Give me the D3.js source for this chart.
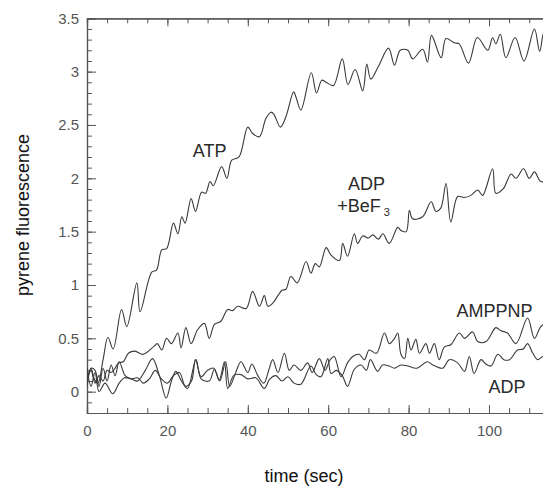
<!DOCTYPE html>
<html>
<head>
<meta charset="utf-8">
<script src="https://cdn.jsdelivr.net/npm/d3@7"></script>
<style>
  body { margin: 0; background: #fff; }
  svg { display: block; font-family: "Liberation Sans", Arial, sans-serif; }
</style>
</head>
<body>
<svg width="543" height="486"></svg>
<script>
// data: [time (sec), pyrene fluorescence]
const atp = [[0,0.05],[1,0.22],[1.8,0.12],[2.7,0.08],[4,0.3],[5.2,0.51],[6.5,0.40],[8.6,0.77],[9.9,0.61],
  [12.4,1.02],[13.2,0.75],[16.1,1.12],[17.3,1.14],[18.6,1.33],[19.8,1.34],[21.5,1.58],[22.6,1.48],[23.6,1.64],
  [24.4,1.58],[25.9,1.81],[27,1.69],[28.5,1.87],[29.5,1.86],[30.6,1.97],[31.4,1.93],[33.5,2.11],[34.8,2.00],
  [36,2.17],[37.8,2.20],[40,2.48],[41.2,2.42],[42.9,2.39],[44.5,2.56],[45.8,2.62],[46.5,2.60],[48.1,2.48],
  [49.5,2.58],[51.4,2.81],[52,2.76],[53.2,2.64],[55.8,2.99],[57.1,2.80],[58.4,2.92],[59.5,2.90],[61.3,2.87],
  [63.5,3.12],[64.9,2.88],[66.7,3.02],[68.6,2.82],[69.6,3.07],[70.6,2.93],[72.5,3.05],[75,3.22],[76.5,3.06],
  [77.9,3.20],[79.8,3.20],[81,3.12],[83.5,3.21],[84.7,3.09],[85.7,3.34],[88.1,3.13],[89.3,3.31],[91.4,3.27],
  [92.6,3.26],[94.9,3.08],[97.1,3.32],[99.7,3.20],[100.9,3.32],[101.7,3.26],[102.8,3.35],[104.2,3.13],
  [106.5,3.32],[108.7,3.10],[111.3,3.40],[112.6,3.19],[113.7,3.37],[115,3.28]];

const adpBef3 = [[0,0.12],[1,0.2],[2,0.08],[3,0.15],[4,0.1],[5,0.2],[6,0.18],[7,0.22],[7.8,0.27],[9,0.28],
  [10.3,0.36],[11.9,0.38],[14,0.35],[16.5,0.42],[17.5,0.45],[18.6,0.39],[19.8,0.50],[21,0.45],[22.6,0.55],
  [23.4,0.41],[24.6,0.60],[25.9,0.45],[27.5,0.58],[29.2,0.64],[30.4,0.50],[31.7,0.63],[33.3,0.66],[35,0.77],
  [36.2,0.76],[37.5,0.80],[39.6,0.78],[41.2,0.94],[42.9,0.80],[44.1,0.90],[45,0.80],[46.2,0.83],[47.5,0.90],
  [48.5,0.95],[49.5,0.96],[50.7,1.08],[52.3,1.02],[54.5,1.22],[55.7,1.11],[56.8,1.20],[57.8,1.17],[59.5,1.35],
  [60.7,1.28],[62.8,1.23],[63.6,1.39],[64.8,1.27],[66.5,1.48],[67.3,1.39],[68.6,1.46],[70,1.44],[71.1,1.47],
  [72.5,1.43],[73.6,1.48],[75.2,1.39],[77.3,1.54],[78.1,1.51],[79.4,1.50],[80.2,1.70],[81,1.62],[83.5,1.64],
  [85.6,1.78],[86.8,1.69],[88,1.72],[89.3,1.95],[90.5,1.59],[92.2,1.83],[93.8,1.82],[95.5,1.84],[97.2,1.89],
  [98.4,1.84],[100.9,2.09],[101.7,1.86],[103.5,1.90],[105.5,2.04],[106.7,2.00],[108.6,2.09],[110,2.00],
  [111.3,2.06],[112.9,1.97],[115,1.98]];

const amppnp = [[0,0.1],[1,0.22],[2,0.2],[3,0.05],[4,0.22],[5,0.1],[6,0.25],[7,0.15],[8,0.28],[9.5,0.15],
  [11,0.12],[12.6,0.13],[14,0.08],[15.5,0.12],[17,0.2],[18.5,0.12],[20,0.08],[21.5,0.15],[23,0.18],[24.5,0.05],
  [26,0.1],[27,0.3],[28.4,0.14],[30,0.2],[31.5,0.22],[33,0.1],[34.5,0.28],[35.5,0.05],[37,0.18],[38.3,0.28],
  [40,0.18],[41,0.26],[42.5,0.15],[44,0.08],[45.2,0.2],[46.2,0.3],[47.5,0.18],[49.1,0.36],[50.3,0.2],
  [51.5,0.25],[53.2,0.2],[54.9,0.27],[56,0.18],[57.8,0.31],[59.2,0.2],[60.5,0.3],[61.5,0.33],[63.2,0.14],
  [64.8,0.27],[66.1,0.33],[67.7,0.35],[69,0.3],[70.2,0.39],[72,0.36],[74,0.55],[75.2,0.45],[76.5,0.5],
  [77.3,0.55],[78.1,0.35],[79,0.31],[79.8,0.50],[80.6,0.39],[81.8,0.49],[82.7,0.36],[84.3,0.45],[85.2,0.36],
  [86.4,0.45],[87.6,0.30],[88.9,0.42],[90.5,0.44],[92.6,0.55],[93.9,0.50],[95.9,0.56],[97.2,0.47],[99.3,0.47],
  [101.7,0.60],[103,0.57],[104.6,0.55],[106.7,0.45],[109.6,0.69],[111.3,0.50],[112.9,0.61],[115,0.66]];

const adp = [[0,0.22],[1,0.05],[2,0.18],[3,0.0],[4.5,0.08],[6.4,-0.02],[8,0.08],[9.3,0.13],[11,0.12],
  [12.6,0.10],[14.5,0.2],[16.3,0.31],[18,0.15],[19.7,-0.06],[21,0.1],[22.1,0.19],[23.5,0.1],[25,0.03],
  [27.1,0.3],[28.4,0.12],[30.4,0.1],[31.7,0.21],[32.9,0.11],[34.2,0.28],[35,0.03],[36.5,0.15],[38.3,0.16],
  [40,0.12],[42,0.13],[44.1,0.03],[45.5,0.12],[47,0.15],[48.5,0.1],[50,0.14],[51.5,0.08],[53.2,0.07],
  [55.7,0.24],[57,0.16],[58.2,0.14],[59.9,0.31],[60.7,0.17],[62,0.2],[63.5,0.15],[64.8,0.05],[66.5,0.21],
  [68.2,0.25],[69.5,0.2],[70.5,0.3],[72.3,0.19],[73.5,0.25],[75.2,0.24],[76.5,0.22],[78.1,0.25],[79.8,0.24],
  [82,0.22],[84.7,0.28],[86,0.25],[88.5,0.22],[90.1,0.30],[92.2,0.27],[93.9,0.19],[95.1,0.33],[96.3,0.17],
  [98,0.30],[99.2,0.26],[100.5,0.24],[102.2,0.35],[103.7,0.3],[105.1,0.30],[107.1,0.39],[108.5,0.4],
  [109.6,0.45],[110.9,0.36],[112.1,0.30],[113.5,0.33],[115,0.3]];

const xTickLabels = [0, 20, 40, 60, 80, 100];
const yTickLabels = [0, 0.5, 1, 1.5, 2, 2.5, 3, 3.5];

// series labels: [text, time, value]
const labels = [["ATP", 30.5, 2.2], ["ADP", 69.5, 1.89], ["AMPPNP", 101.4, 0.7], ["ADP", 104.5, -0.01]];

const svg = d3.select("svg");
const plotLeft = 87, plotTop = 18.3, plotBottom = 413, plotRight = 569.4;

const x = d3.scaleLinear().domain([0, 120]).range([plotLeft, plotRight]);
const y = d3.scaleLinear().domain([-0.2, 3.5]).range([plotBottom, plotTop]);

svg.append("defs").append("clipPath").attr("id", "plot")
  .append("rect").attr("x", plotLeft).attr("y", plotTop)
  .attr("width", plotRight - plotLeft).attr("height", plotBottom - plotTop);

// axes
const axisColor = "#555";
function styleAxis(g) {
  g.select(".domain").attr("stroke", axisColor).attr("stroke-width", 1.2);
  g.selectAll(".tick line").attr("stroke", axisColor).attr("stroke-width", 1);
  g.selectAll(".tick text").attr("fill", "#555").style("font-size", "15px");
}

// minor ticks
svg.append("g").attr("transform", `translate(${plotLeft},0)`)
  .call(d3.axisLeft(y).tickValues(d3.range(-0.1, 3.45, 0.1)).tickSize(-5).tickFormat(""))
  .call(styleAxis);
svg.append("g").attr("transform", `translate(0,${plotBottom})`)
  .call(d3.axisBottom(x).tickValues(d3.range(5, 120, 5)).tickSize(-5).tickFormat(""))
  .call(styleAxis);
svg.append("g").attr("transform", `translate(0,${plotTop})`)
  .call(d3.axisTop(x).tickValues(d3.range(5, 120, 5)).tickSize(-5).tickFormat(""))
  .call(styleAxis);

// major ticks + labels
svg.append("g").attr("transform", `translate(${plotLeft},0)`)
  .call(d3.axisLeft(y).tickValues(yTickLabels).tickSize(-9).tickPadding(8).tickFormat(d => d))
  .call(styleAxis);
svg.append("g").attr("transform", `translate(0,${plotBottom})`)
  .call(d3.axisBottom(x).tickValues(xTickLabels).tickSize(-8).tickPadding(12).tickFormat(d => d))
  .call(styleAxis);
svg.append("g").attr("transform", `translate(0,${plotTop})`)
  .call(d3.axisTop(x).tickValues(xTickLabels).tickSize(-8).tickFormat(""))
  .call(styleAxis);

// curves
const line = d3.line()
  .x(d => x(d[0]))
  .y(d => y(d[1]))
  .curve(d3.curveCatmullRom.alpha(0.5));

svg.append("g").attr("clip-path", "url(#plot)")
  .selectAll("path")
  .data([adp, amppnp, adpBef3, atp])
  .enter()
  .append("path")
  .attr("d", line)
  .attr("fill", "none")
  .attr("stroke", "#3a3a3a")
  .attr("stroke-width", 1.1);

// series labels
svg.append("g")
  .selectAll("text")
  .data(labels)
  .enter()
  .append("text")
  .attr("x", d => x(d[1]))
  .attr("y", d => y(d[2]))
  .attr("text-anchor", "middle")
  .attr("fill", "#2a2a2a")
  .style("font-size", "18px")
  .text(d => d[0]);

const bef = svg.append("text")
  .attr("x", x(68.8))
  .attr("y", y(1.68))
  .attr("text-anchor", "middle")
  .attr("fill", "#2a2a2a")
  .style("font-size", "18px");
bef.append("tspan").text("+BeF");
bef.append("tspan").attr("dx", 3).attr("dy", 4).style("font-size", "11px").text("3");

// axis titles
svg.append("text")
  .attr("transform", "translate(29,215) rotate(-90)")
  .attr("text-anchor", "middle")
  .attr("fill", "#111")
  .style("font-size", "18px")
  .text("pyrene fluorescence");

svg.append("text")
  .attr("x", 304)
  .attr("y", 482)
  .attr("text-anchor", "middle")
  .attr("fill", "#111")
  .style("font-size", "18px")
  .text("time (sec)");
</script>
</body>
</html>
